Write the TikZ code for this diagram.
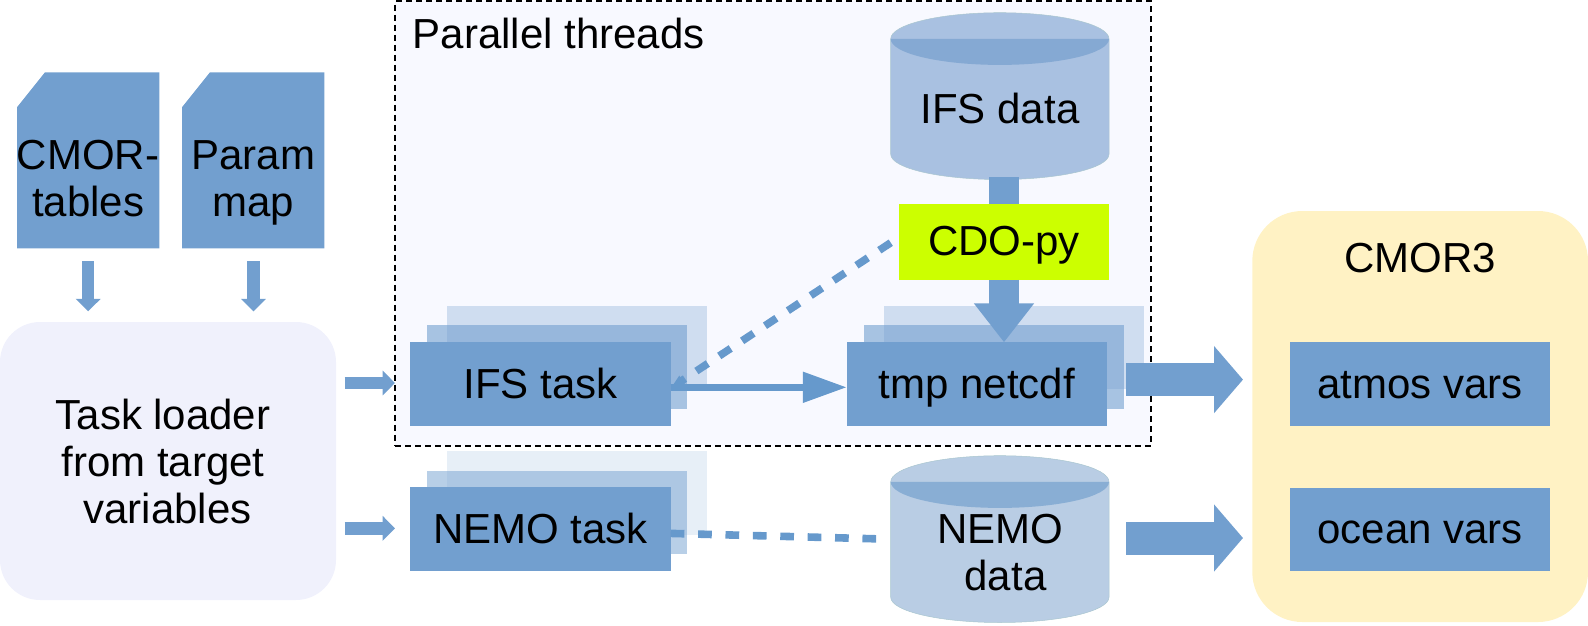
\documentclass[tikz,border=0pt]{standalone}
\usepackage{fontspec}
\setmainfont{Liberation Sans}
\usetikzlibrary{arrows.meta}
\definecolor{mainblue}{HTML}{729FCF}
\definecolor{linkblue}{HTML}{6699CC}
\definecolor{threadbg}{HTML}{F8F9FF}
\definecolor{loaderbg}{HTML}{F0F1FC}
\definecolor{cmorbg}{HTML}{FFF2C4}
\definecolor{cdolime}{HTML}{CCFF00}
\definecolor{ifscyl}{HTML}{A9C1E1}
\definecolor{ifscap}{HTML}{85A9D3}
\definecolor{nemocyl}{HTML}{B9CDE4}
\definecolor{nemocap}{HTML}{89AED4}
\definecolor{cyledge}{HTML}{A9C6CF}
\newcommand{\drawcyl}[3]{%
  \begin{scope}[shift={(890.7,#1)}]
    \filldraw[fill=#2,draw=cyledge,line width=.5pt]
      (0,26.2) .. controls (0,11.8) and (48.9,0) .. (109.15,0)
      .. controls (169.4,0) and (218.3,11.8) .. (218.3,26.2)
      -- (218.3,141.5)
      .. controls (218.3,155.5) and (169.4,166.8) .. (109.15,166.8)
      .. controls (48.9,166.8) and (0,155.5) .. (0,141.5) -- cycle;
    \fill[#3] (0,26.2) .. controls (0,40.6) and (48.9,52.2) .. (109.15,52.2)
      .. controls (169.4,52.2) and (218.3,40.6) .. (218.3,26.2) -- cycle;
  \end{scope}}
\tikzset{
  lbl/.style={font=\fontsize{42}{47}\selectfont,inner sep=0pt,outer sep=0pt,text=black},
  taskbox/.style={lbl,fill=mainblue,minimum width=260.4pt,minimum height=83.4pt,text height=28pt,text depth=0pt},
  midlayer/.style={inner sep=0pt,outer sep=0pt,fill=mainblue,fill opacity=#1,minimum width=260.4pt,minimum height=83.6pt},
  backlayer/.style={inner sep=0pt,outer sep=0pt,fill=mainblue,fill opacity=#1,minimum width=260.4pt,minimum height=83.6pt},
  block/.style={draw=mainblue,line cap=butt},
  bigarrow/.style={block,line width=33pt,-{Triangle[length=29pt,width=65.7pt,color=mainblue]}},
  medarrow/.style={block,line width=29.4pt,-{Triangle[length=39pt,width=57.7pt,color=mainblue]}},
  smallarrow/.style={block,line width=12.4pt,-{Triangle[length=12.4pt,width=24.2pt,color=mainblue]}},
  solidlink/.style={draw=linkblue,line width=6.8pt,-{Triangle[length=44pt,width=29.4pt,color=linkblue]}},
  dashlink/.style={draw=linkblue,line width=7.6pt,dash pattern=on 13.7pt off 13.7pt},
}
\begin{document}
\begin{tikzpicture}[x=1pt,y=-1pt]
\useasboundingbox (0,0) rectangle (1588,625);
% dashed thread frame
\node[inner sep=0pt,outer sep=0pt,fill=threadbg,draw=black,line width=2pt,dash pattern=on 6pt off 4pt,minimum width=756pt,minimum height=444.5pt] (threads) at (773,223.7) {};
\node[lbl,anchor=base west] (threadstitle) at (412.8,48) {Parallel threads};
% CMOR panel and loader
\node[fill=cmorbg,rounded corners=50pt,inner sep=0pt,minimum width=335.7pt,minimum height=411pt] (cmor) at (1420.15,416.5) {};
\node[lbl,anchor=base] (cmortitle) at (1420,272.7) {CMOR3};
\node[fill=loaderbg,rounded corners=40pt,inner sep=0pt,outer sep=0pt,minimum width=336pt,minimum height=278pt] (loader) at (168,461) {};
\node[lbl,align=center] (loadertext) at (163,461.5) {Task loader\\from target\\\hspace*{9pt}variables};
% note shapes
\fill[mainblue] (45,72.3) -- (159.3,72.3) -- (159.3,248.3) -- (17,248.3) -- (17,107.3) -- cycle;
\fill[mainblue] (210,72.3) -- (324.3,72.3) -- (324.3,248.3) -- (182,248.3) -- (182,107.3) -- cycle;
\node[lbl,align=center,minimum width=142.3pt,minimum height=176pt] (cmortables) at (88.15,179) {CMOR-\\tables};
\node[lbl,align=center,minimum width=142.3pt,minimum height=176pt] (parammap) at (253.15,183.2) {Param\\map};
% cylinders
\drawcyl{12.7}{ifscyl}{ifscap}
\drawcyl{455.7}{nemocyl}{nemocap}
\node[lbl,minimum width=218.3pt,minimum height=166.6pt,text height=54pt,text depth=0pt] (ifsdata) at (1000,96) {IFS data};
\node[lbl,align=center] (nemodata) at (1000,552.5) {NEMO\\\hspace*{11pt}data};
\coordinate (nemowest) at (890.7,539.2);
\coordinate (nemoeast) at (1109,539.2);
% layered tasks
\node[backlayer=.30] (ifsback) at (577.1,347.5) {};
\node[midlayer=.60] (ifsmid) at (557.1,367.2) {};
\node[taskbox] (ifstask) at (540.5,384) {IFS task};
\node[backlayer=.30] (tmpback) at (1013.9,347.5) {};
\node[midlayer=.60] (tmpmid) at (993.9,367.2) {};
\node[taskbox] (tmp) at (977,384) {tmp netcdf};
\node[backlayer=.17] (nemoback) at (577.1,493) {};
\node[midlayer=.50] (nemomid) at (557.1,512.5) {};
\node[taskbox] (nemotask) at (540.5,529.1) {NEMO task};
\node[taskbox,minimum width=260.3pt] (atmos) at (1420.15,384.15) {atmos vars};
\node[taskbox,minimum width=260.3pt] (ocean) at (1420.15,529.5) {ocean vars};
\node[lbl,fill=cdolime,minimum width=210pt,minimum height=75.7pt,text depth=0pt,text height=28.2pt] (cdo) at (1004,241.85) {CDO-py};
% connectors
\draw[smallarrow,shorten <=13pt,shorten >=10.7pt] (88.15,248.3) -- (88.15,322);
\draw[smallarrow,shorten <=13pt,shorten >=10.7pt] (253.5,248.3) -- (253.5,322);
\draw[smallarrow,shorten <=8.6pt,shorten >=15.3pt] ([yshift=1pt]ifstask.west -| loader.east) -- ([yshift=1pt]ifstask.west);
\draw[smallarrow,shorten <=8.6pt,shorten >=15.3pt] ([yshift=.8pt]nemotask.west -| loader.east) -- ([yshift=.8pt]nemotask.west);
\draw[block,line width=29.4pt,shorten <=-2.3pt] (ifsdata.south -| cdo.north) -- (cdo.north);
\draw[medarrow] (cdo.south) -- (cdo.south |- tmp.north);
\draw[dashlink,shorten <=9.9pt,-{Triangle[length=14pt,width=10pt,color=linkblue]}] ([yshift=4.6pt]cdo.west) -- ([yshift=-4pt]ifstask.east);
\draw[solidlink] ([yshift=-3.3pt]ifstask.east) -- ([yshift=-3.3pt]tmp.west);
\draw[dashlink,shorten >=12.4pt] ([yshift=-4.3pt]nemotask.east) -- (nemowest);
\draw[bigarrow,shorten <=19pt,shorten >=47pt] ([yshift=4.4pt]tmp.east) -- ([yshift=4.4pt]tmp.east -| atmos.west);
\draw[bigarrow,shorten <=17pt,shorten >=47pt] ([yshift=1.2pt]nemoeast) -- ([yshift=1.2pt]nemoeast -| ocean.west);
\end{tikzpicture}
\end{document}
